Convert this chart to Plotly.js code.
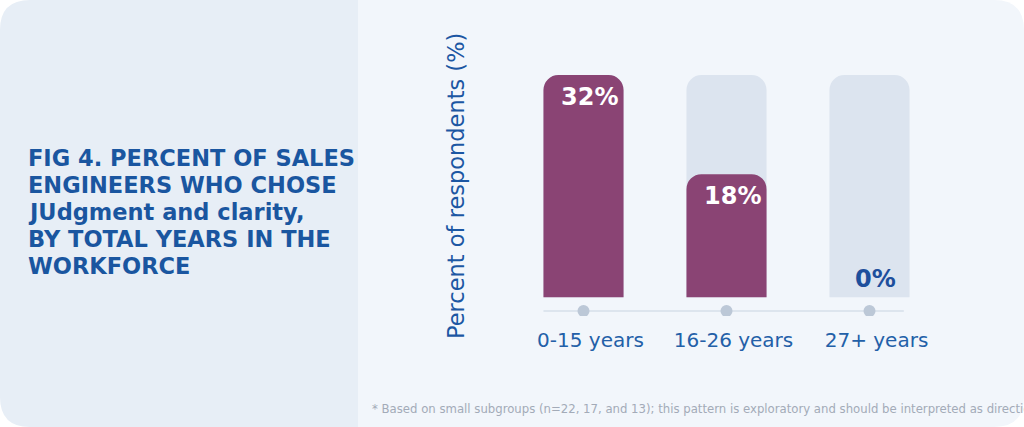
<!DOCTYPE html>
<html>
<head>
<meta charset="utf-8">
<script src="https://cdn.plot.ly/plotly-3.0.1.min.js"></script>
<style>
  html, body { margin: 0; padding: 0; background: #ffffff; }
  #chart { width: 1024px; height: 427px; }
</style>
</head>
<body>
<div id="chart"></div>
<script>
// data
var groups = ['0-15 years', '16-26 years', '27+ years'];
var shares = [31.8, 17.6, 0];
var labels = ['32%', '18%', '0%'];
var trackMax = [31.8, 31.8, 31.8];
var titleLines = ['FIG 4. PERCENT OF SALES', 'ENGINEERS WHO CHOSE', 'JUdgment and clarity,',
                  'BY TOTAL YEARS IN THE', 'WORKFORCE'];

var W = 1024, H = 427;
var M = {l: 512, r: 83, t: 75, b: 111};
var plotW = W - M.l - M.r, plotH = H - M.t - M.b;
var yRange = [-2.7, 31.8];

// pixel -> paper helpers for the card shapes and free text
function px(x) { return (x - M.l) / plotW; }
function py(y) { return (H - M.b - y) / plotH; }

function roundedPath(x0, y0, x1, y1, rl, rr) {
  return 'M' + px(x0 + rl) + ',' + py(y0) +
    ' L' + px(x1 - rr) + ',' + py(y0) +
    ' Q' + px(x1) + ',' + py(y0) + ' ' + px(x1) + ',' + py(y0 + rr) +
    ' L' + px(x1) + ',' + py(y1 - rr) +
    ' Q' + px(x1) + ',' + py(y1) + ' ' + px(x1 - rr) + ',' + py(y1) +
    ' L' + px(x0 + rl) + ',' + py(y1) +
    ' Q' + px(x0) + ',' + py(y1) + ' ' + px(x0) + ',' + py(y1 - rl) +
    ' L' + px(x0) + ',' + py(y0 + rl) +
    ' Q' + px(x0) + ',' + py(y0) + ' ' + px(x0 + rl) + ',' + py(y0) + ' Z';
}

var purple = '#8a4474';
var blue = '#1c57a3';

// light "track" behind each bar
var track = {
  x: groups, y: trackMax, type: 'bar', width: 0.56,
  marker: {color: '#dce4ef', cornerradius: 15},
  hoverinfo: 'skip', showlegend: false
};

// dots on the baseline
var dotY = -2.0;
var dots = {
  x: groups, y: groups.map(function () { return dotY; }),
  type: 'scatter', mode: 'markers',
  marker: {color: '#bcc8d7', size: 12},
  hoverinfo: 'skip', showlegend: false
};

// the real values, on an overlaying axis pair so the rounding works
var bars = {
  x: groups, y: shares, type: 'bar', width: 0.56,
  xaxis: 'x2', yaxis: 'y2',
  marker: {color: purple, cornerradius: 15},
  hoverinfo: 'skip', showlegend: false
};

var annotations = groups.map(function (g, i) {
  var zero = shares[i] === 0;
  return {
    x: g, y: shares[i], xref: 'x2', yref: 'y2',
    text: '<b>' + labels[i] + '</b>', showarrow: false,
    xanchor: 'center', yanchor: zero ? 'bottom' : 'top',
    xshift: 6, yshift: zero ? 2 : -6,
    font: {family: 'DejaVu Sans', size: 24, color: zero ? '#1e4f9c' : '#ffffff'}
  };
});

annotations.push({
  xref: 'paper', yref: 'paper', x: px(456), y: py(186),
  text: 'Percent of respondents (%)', textangle: -90, showarrow: false,
  xanchor: 'center', yanchor: 'middle',
  font: {family: 'DejaVu Sans', size: 22.5, color: blue}
});

titleLines.forEach(function (line, i) {
  annotations.push({
    xref: 'paper', yref: 'paper', x: px(26), y: py(158 + i * 27),
    text: '<b>' + line + '</b>', showarrow: false,
    xanchor: 'left', yanchor: 'middle',
    font: {family: 'DejaVu Sans', size: 22.5, color: '#1a56a0'}
  });
});

annotations.push({
  xref: 'paper', yref: 'paper', x: px(370), y: py(408),
  text: '* Based on small subgroups (n=22, 17, and 13); this pattern is exploratory and should be interpreted as directional.',
  showarrow: false, align: 'left', xanchor: 'left', yanchor: 'middle',
  font: {family: 'DejaVu Sans Condensed, DejaVu Sans', size: 13, color: '#a3abb8'}
});

var shapes = [
  {type: 'path', xref: 'paper', yref: 'paper', layer: 'below',
   path: roundedPath(0, 0, 380, H, 30, 0), fillcolor: '#e7eef6', line: {width: 0}},
  {type: 'path', xref: 'paper', yref: 'paper', layer: 'below',
   path: roundedPath(358, 0, W, H, 0, 30), fillcolor: '#f2f6fb', line: {width: 0}},
  {type: 'line', xref: 'x', yref: 'y', layer: 'below',
   x0: -0.28, x1: 2.24, y0: dotY, y1: dotY,
   line: {color: '#d6dfea', width: 1.5}}
];

var xBase = {
  type: 'category', range: [-0.5, 2.5], fixedrange: true,
  showgrid: false, zeroline: false, showline: false, ticks: ''
};
var yBase = {
  range: yRange, fixedrange: true,
  showgrid: false, zeroline: false, showline: false,
  showticklabels: false, ticks: ''
};

var layout = {
  width: W, height: H,
  margin: M,
  paper_bgcolor: '#ffffff',
  plot_bgcolor: 'rgba(0,0,0,0)',
  barmode: 'overlay',
  showlegend: false,
  xaxis: Object.assign({}, xBase, {
    ticklabelstandoff: 10, ticklabelshift: 7,
    tickfont: {family: 'DejaVu Sans', size: 20, color: '#2360a8'}
  }),
  yaxis: Object.assign({}, yBase),
  xaxis2: Object.assign({}, xBase, {overlaying: 'x', showticklabels: false}),
  yaxis2: Object.assign({}, yBase, {overlaying: 'y'}),
  shapes: shapes,
  annotations: annotations
};

Plotly.newPlot('chart', [track, dots, bars], layout, {displayModeBar: false, staticPlot: true});
</script>
</body>
</html>
